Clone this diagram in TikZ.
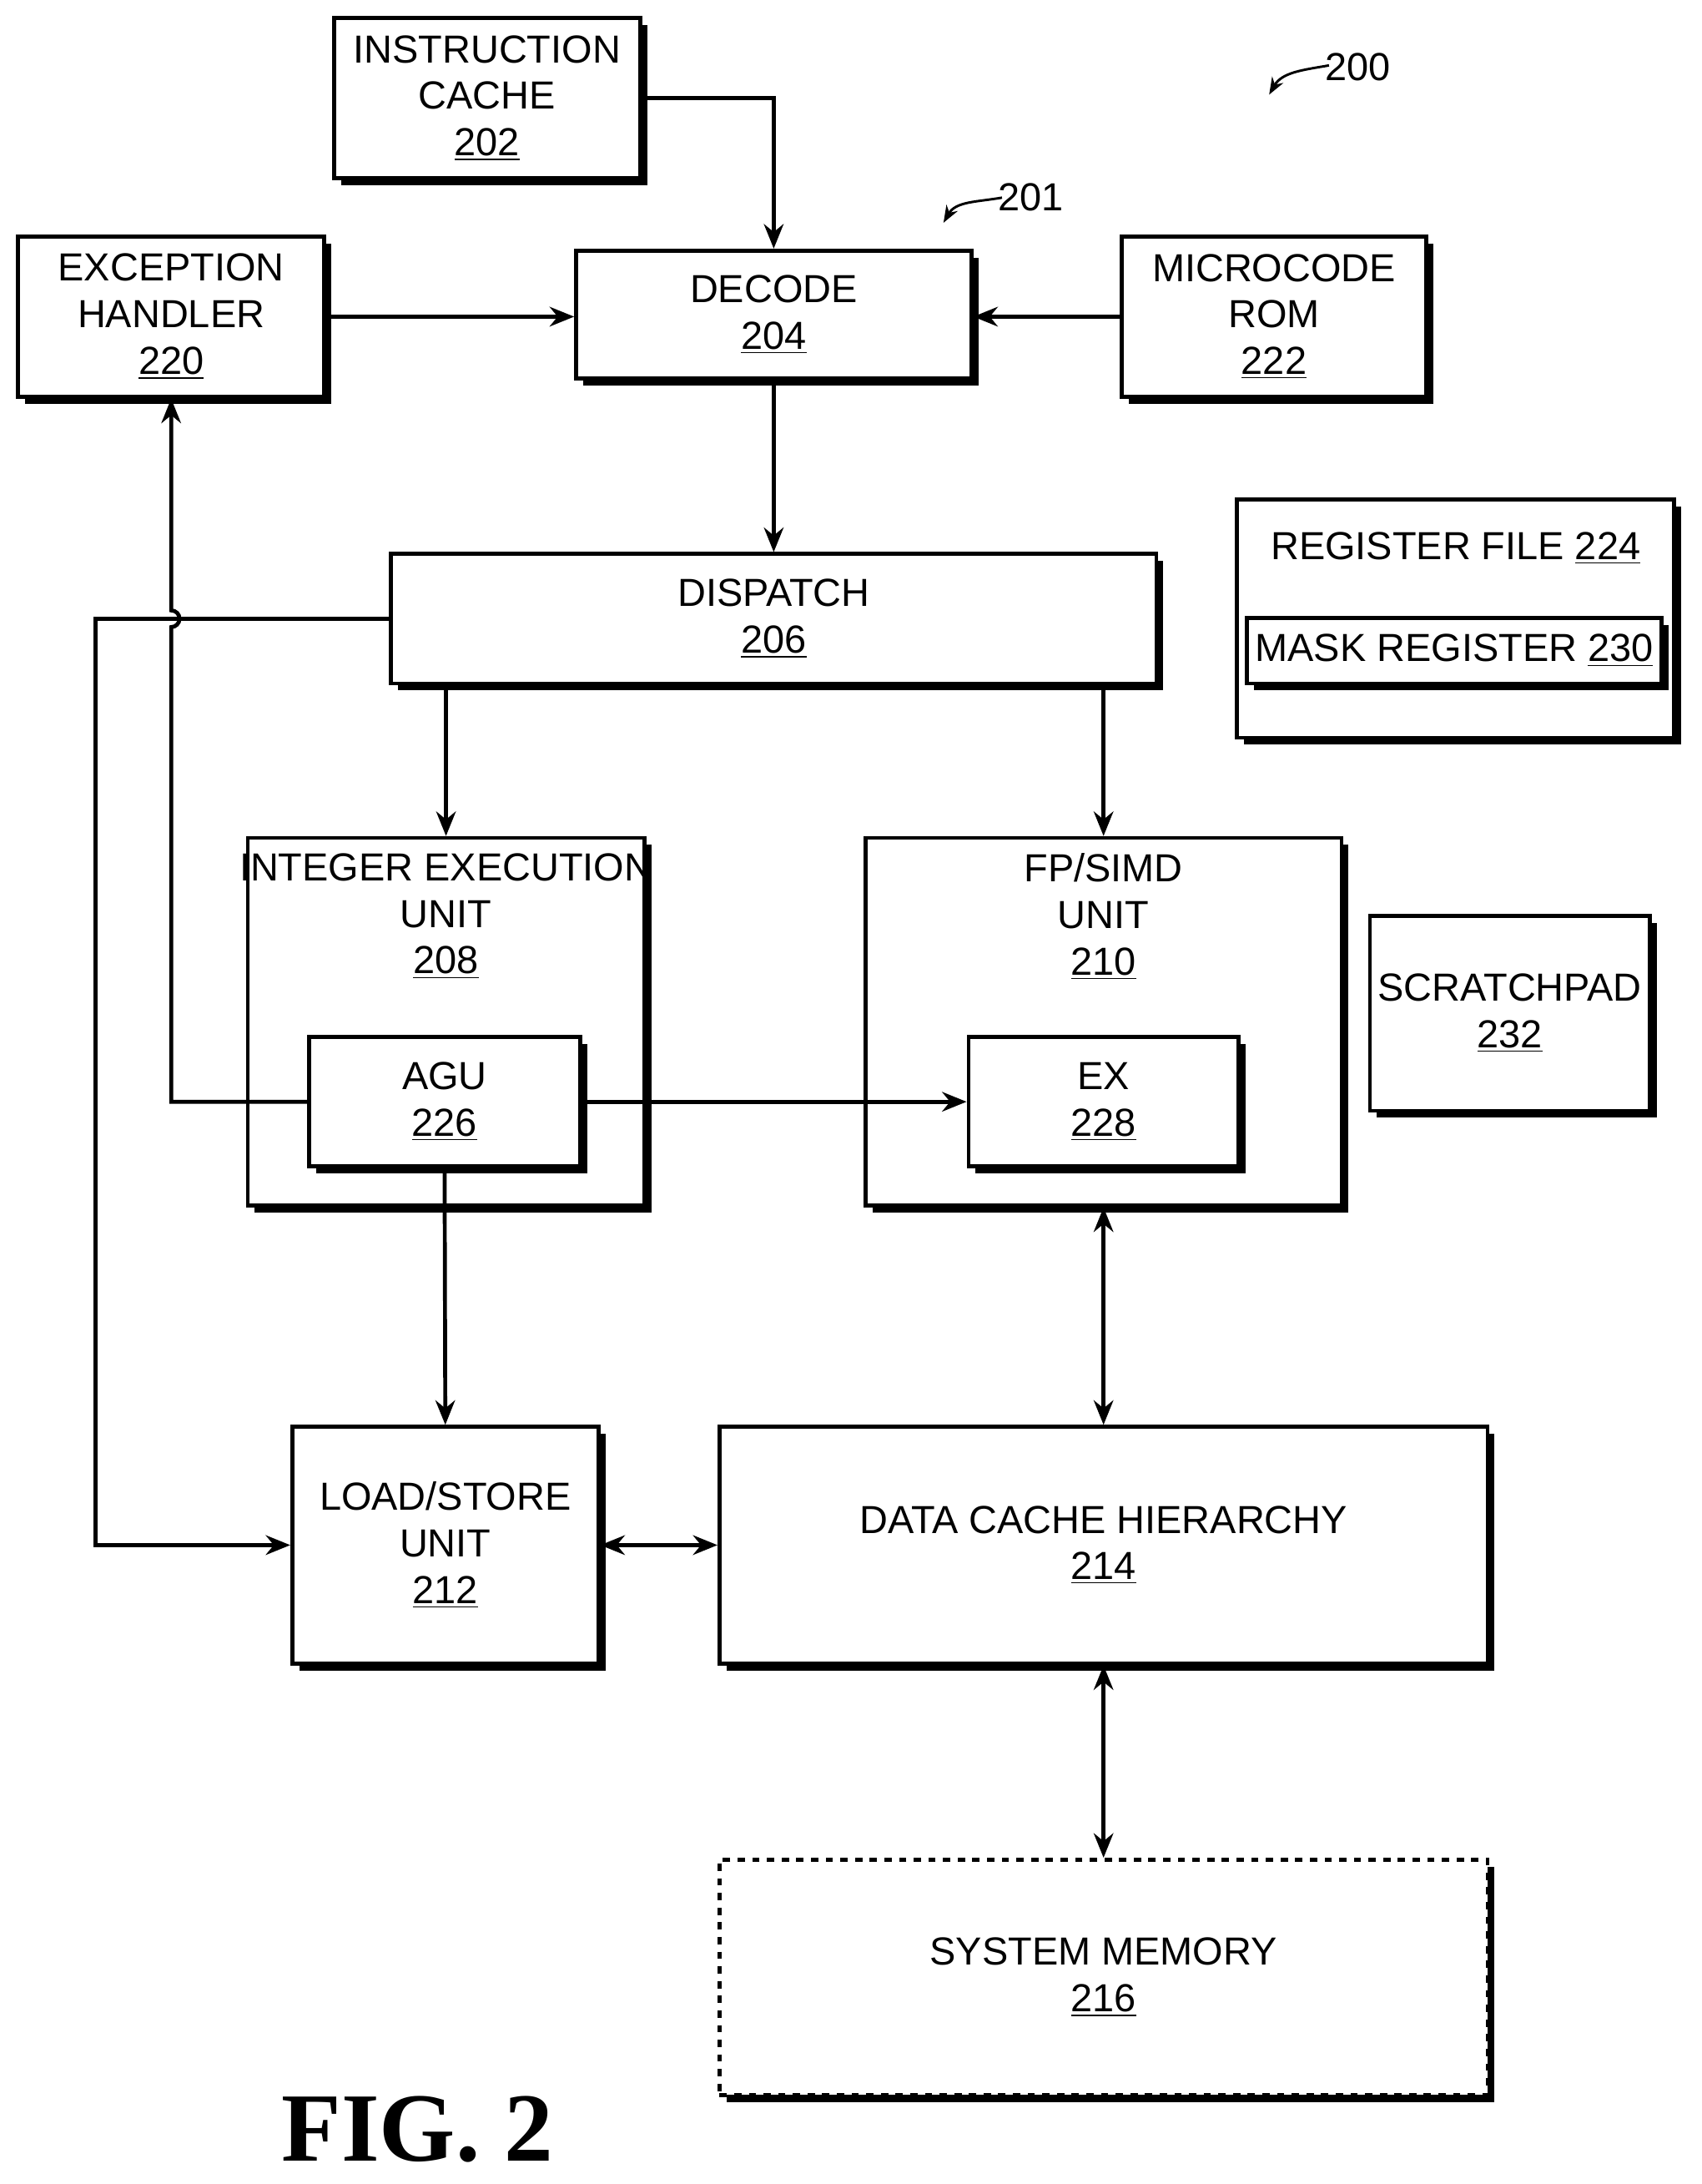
\documentclass[tikz,border=0pt]{standalone}
\usepackage{fontspec}
\setmainfont{Liberation Sans}
\usetikzlibrary{arrows.meta,shadows,calc}

\begin{document}
\begin{tikzpicture}[
box/.style = {draw, line width=1.6pt, fill=white, align=center,
  drop shadow={shadow xshift=0.1cm, shadow yshift=-0.1cm, fill=black, opacity=1},
  font=\fontsize{16}{19}\selectfont},
txt/.style = {align=center, font=\fontsize{16}{19}\selectfont},
conn/.style = {line width=1.6pt, -{Stealth[length=10pt,width=8pt]}},
both/.style = {line width=1.6pt, {Stealth[length=10pt,width=8pt]}-{Stealth[length=10pt,width=8pt]}},
thick]
\useasboundingbox (0,0) rectangle (24.46,-31.38);
% top row
\node[box, minimum width=4.4cm, minimum height=2.3cm] (ic) at (7.0,-1.41) {INSTRUCTION\\CACHE\\\underline{202}};
\node[box, minimum width=5.68cm, minimum height=1.84cm] (dec) at (11.12,-4.52) {DECODE\\\underline{204}};
\node[box, minimum width=4.4cm, minimum height=2.3cm] (exc) at (2.46,-4.55) {EXCEPTION\\HANDLER\\\underline{220}};
\node[box, minimum width=4.38cm, minimum height=2.3cm] (rom) at (18.31,-4.55) {MICROCODE\\ROM\\\underline{222}};
% register file
\node[box, minimum width=6.28cm, minimum height=3.42cm] (reg) at (20.92,-8.89) {};
\node[txt] (reglbl) at (20.92,-7.88) {REGISTER FILE \underline{224}};
\node[box, minimum width=5.4cm, minimum height=0.94cm] (mask) at (20.9,-9.35) {MASK REGISTER \underline{230}};
% dispatch
\node[box, minimum width=11.0cm, minimum height=1.86cm] (dis) at (11.12,-8.89) {DISPATCH\\\underline{206}};
% execution units
\node[box, minimum width=5.7cm, minimum height=5.28cm] (int) at (6.41,-14.68) {};
\node[txt, anchor=north] (intlbl) at ($(int.north)+(0,-0.12)$) {INTEGER EXECUTION\\UNIT\\\underline{208}};
\node[box, minimum width=3.9cm, minimum height=1.86cm] (agu) at (6.39,-15.83) {AGU\\\underline{226}};
\node[box, minimum width=6.84cm, minimum height=5.28cm] (fp) at (15.86,-14.68) {};
\node[txt, anchor=north] (fplbl) at ($(fp.north)+(0,-0.12)$) {FP/SIMD\\UNIT\\\underline{210}};
\node[box, minimum width=3.88cm, minimum height=1.86cm] (ex) at (15.86,-15.83) {EX\\\underline{228}};
\node[box, minimum width=3.88cm, minimum height=2.8cm] (scr) at (21.7,-14.56) {SCRATCHPAD\\\underline{232}};
% memory side
\node[box, minimum width=4.4cm, minimum height=3.4cm] (ls) at (6.4,-22.2) {LOAD/STORE\\UNIT\\\underline{212}};
\node[box, minimum width=11.04cm, minimum height=3.4cm] (dc) at (15.86,-22.2) {DATA CACHE HIERARCHY\\\underline{214}};
\node[box, dashed, minimum width=11.04cm, minimum height=3.38cm] (mem) at (15.86,-28.41) {SYSTEM MEMORY\\\underline{216}};
\node[font=\fontsize{40}{44}\bfseries\rmfamily] (fig) at (6.0,-30.6) {\fontspec{Liberation Serif}FIG. 2};
% reference numerals
\node[txt] (n200) at (19.52,-0.96) {200};
\coordinate (a200) at (19.1,-0.94);
\coordinate (b200) at (18.24,-1.36);
\draw[line width=1pt, -{Stealth[length=7pt]}] (a200) to[out=190,in=60] (b200);
\node[txt] (n201) at (14.82,-2.84) {201};
\coordinate (a201) at (14.4,-2.84);
\coordinate (b201) at (13.56,-3.2);
\draw[line width=1pt, -{Stealth[length=7pt]}] (a201) to[out=190,in=60] (b201);
% connectors
\draw[conn] (ic.east) -| (dec.north);
\draw[conn] (exc.east) -- (exc.east -| dec.west);
\draw[conn] (rom.west) -- (rom.west -| dec.east);
\draw[conn] (dec.south) -- (dis.north);
\draw[conn] (dis.south -| int.north) -- (int.north);
\draw[conn] (dis.south -| fp.north) -- (fp.north);
\draw[conn] (dis.west) -- ++(-4.22,0) |- (ls.west);
\draw[conn] (agu.west) -| ($(exc.south |- dis.west)+(0,-0.12)$)
  arc (-90:90:0.12) -- (exc.south);
\draw[conn] (agu.east) -- (ex.west);
\draw[conn] (agu.south) -- (ls.north);
\draw[both] (fp.south) -- (dc.north);
\draw[both] (ls.east) -- (dc.west);
\draw[both] (dc.south) -- (mem.north);
\end{tikzpicture}
\end{document}
